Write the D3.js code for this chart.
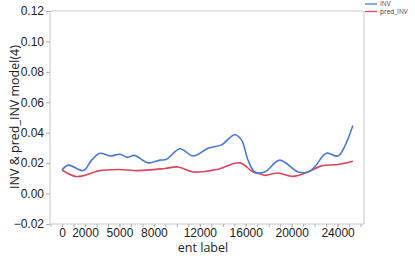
<!DOCTYPE html>
<html lang="en">
<head>
    <meta charset="UTF-8">
    <title>INV & pred_INV</title>
    <script src="https://d3js.org/d3.v7.min.js"></script>
    <style>
        body { margin: 0; padding: 0; background: #fff; }
        svg { display: block; font-family: "Open Sans", "DejaVu Sans", sans-serif; }
        .frame { fill: none; stroke: #c8c8c8; stroke-width: 1px; }
        .axis path { display: none; }
        .axis line { stroke: #b0b0b0; }
        .axis text { fill: #222; font-size: 12px; }
        .series { fill: none; stroke-width: 1.6px; }
        .label { fill: #222; font-size: 12.5px; text-anchor: middle; }
        .legend text { fill: #444; font-size: 6.5px; }
    </style>
</head>
<body>
<svg width="415" height="259"></svg>
<script>
    // INV (blue)
    const invX = [0, 550, 1850, 2580, 3300, 4170, 5040, 5710, 6290, 7500, 8520, 9100, 10260, 11420,
                  12720, 13890, 15040, 15630, 16200, 16780, 17650, 18960, 20550, 21420, 22000, 23020, 24030, 24610, 25330];
    const invY = [0.0155, 0.0187, 0.0151, 0.0220, 0.0265, 0.0247, 0.0258, 0.0238, 0.0251, 0.0202, 0.0220, 0.0225, 0.0295, 0.0247,
                  0.0298, 0.0320, 0.0387, 0.0353, 0.0220, 0.0142, 0.0142, 0.0220, 0.0142, 0.0142, 0.0175, 0.0265, 0.0247, 0.0309, 0.0447];

    // pred_INV (red)
    const predX = [0, 1130, 2000, 3160, 4900, 6630, 8960, 10110, 11420, 13450, 15480, 16630, 17220, 17650,
                   18810, 20110, 21420, 22580, 24030, 25330];
    const predY = [0.0155, 0.0113, 0.0120, 0.0149, 0.0158, 0.0151, 0.0165, 0.0175, 0.0142, 0.0158, 0.0202, 0.0142, 0.0131, 0.0120,
                   0.0135, 0.0113, 0.0142, 0.0182, 0.0191, 0.0213];

    const xTicks = [0, 2000, 5000, 8000, 12000, 16000, 20000, 24000];
    const yTicks = [-0.02, 0, 0.02, 0.04, 0.06, 0.08, 0.10, 0.12];

    const svg = d3.select("svg");
    const plotLeft = 50, plotRight = 364, plotTop = 11, plotBottom = 224;

    const x = d3.scaleLinear().domain([-1050, 26300]).range([plotLeft, plotRight]);
    const y = d3.scaleLinear().domain([-0.02, 0.12]).range([plotBottom, plotTop]);

    // frame
    svg.append("path")
        .attr("class", "frame")
        .attr("d", `M${plotLeft},${plotTop}H${plotRight}V${plotBottom}H${plotLeft}Z`);

    // x axis: minor ticks every 1000, labels at selected values
    svg.append("g")
        .attr("class", "axis")
        .attr("transform", `translate(0,${plotBottom})`)
        .call(d3.axisBottom(x).tickValues(d3.range(-1000, 26001, 1000)).tickSize(3).tickFormat(""));

    svg.append("g")
        .attr("class", "axis")
        .attr("transform", `translate(0,${plotBottom})`)
        .call(d3.axisBottom(x).tickValues(xTicks).tickSize(3).tickPadding(1).tickFormat(d3.format("d")));

    svg.append("g")
        .attr("class", "axis")
        .attr("transform", `translate(${plotLeft},0)`)
        .call(d3.axisLeft(y).tickValues(yTicks).tickSize(4).tickPadding(2).tickFormat(d3.format(".2f")));

    // lines
    const line = d3.line()
        .x(d => x(d[0]))
        .y(d => y(d[1]))
        .curve(d3.curveCatmullRom.alpha(0.5));

    svg.append("path")
        .datum(d3.zip(predX, predY))
        .attr("class", "series")
        .attr("stroke", "#d9475b")
        .attr("d", line);

    svg.append("path")
        .datum(d3.zip(invX, invY))
        .attr("class", "series")
        .attr("stroke", "#4a78d6")
        .attr("d", line);

    // axis titles
    svg.append("text")
        .attr("class", "label")
        .attr("x", 203)
        .attr("y", 252)
        .text("ent label");

    svg.append("text")
        .attr("class", "label")
        .attr("transform", "translate(19,117) rotate(-90)")
        .text("INV & pred_INV model(4)");

    // legend
    const legend = svg.append("g").attr("class", "legend");
    [["INV", "#4a78d6"], ["pred_INV", "#d9475b"]].forEach((d, i) => {
        legend.append("line")
            .attr("x1", 365).attr("x2", 377)
            .attr("y1", 4 + i * 7.5).attr("y2", 4 + i * 7.5)
            .attr("stroke", d[1]).attr("stroke-width", 1.3);
        legend.append("text")
            .attr("x", 380).attr("y", 6 + i * 7.5)
            .text(d[0]);
    });
</script>
</body>
</html>
